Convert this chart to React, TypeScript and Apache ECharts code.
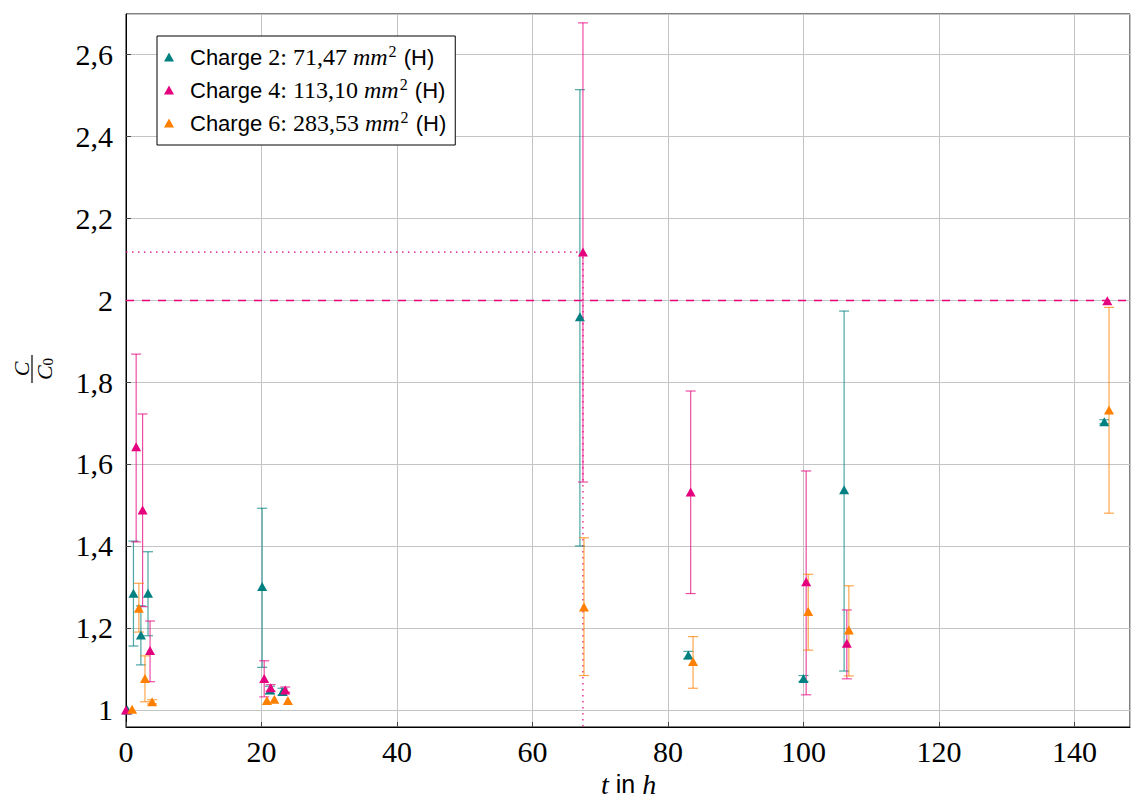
import React, { useEffect, useRef } from 'react';
import * as echarts from 'echarts';

// ---- data ----
const seriesNames = ['Charge 2', 'Charge 4', 'Charge 6'];
const seriesIds = ['2', '4', '6'];
const seriesAreas = ['71,47', '113,10', '283,53'];
const seriesColors = ['#008080', '#e5007d', '#ff8000'];

// Charge 2 (teal)
const charge2X = [0.2, 1.1, 2.2, 3.25, 20.1, 21.25, 23.1, 67.0, 83.0, 100.0, 106.0, 144.4];
const charge2Y = [1.0, 1.285, 1.183, 1.285, 1.301, 1.049, 1.045, 1.959, 1.134, 1.077, 1.537, 1.703];
const charge2Lo = [null, 1.156, 1.11, 1.181, 1.104, 1.04, 1.036, 1.4, 1.125, 1.07, 1.095, 1.698];
const charge2Hi = [null, 1.412, 1.254, 1.386, 1.492, 1.058, 1.053, 2.513, 1.143, 1.084, 1.973, 1.708];

// Charge 4 (magenta)
const charge4X = [0.0, 1.5, 2.45, 3.55, 20.4, 21.35, 23.5, 67.45, 83.35, 100.4, 106.4, 144.85];
const charge4Y = [1.0, 1.642, 1.488, 1.145, 1.077, 1.054, 1.049, 2.117, 1.532, 1.313, 1.163, 1.998];
const charge4Lo = [null, 1.41, 1.252, 1.069, 1.032, 1.046, 1.043, 1.556, 1.284, 1.037, 1.076, null];
const charge4Hi = [null, 1.868, 1.722, 1.217, 1.12, 1.062, 1.056, 2.676, 1.778, 1.583, 1.244, null];

// Charge 6 (orange)
const charge6X = [0.9, 1.9, 2.8, 3.85, 20.8, 21.9, 23.9, 67.6, 83.7, 100.7, 106.7, 145.1];
const charge6Y = [1.002, 1.248, 1.077, 1.02, 1.023, 1.026, 1.023, 1.251, 1.118, 1.24, 1.195, 1.732];
const charge6Lo = [null, 1.19, 1.02, 1.015, null, null, null, 1.084, 1.053, 1.146, 1.083, 1.48];
const charge6Hi = [null, 1.309, 1.132, 1.025, null, null, null, 1.42, 1.179, 1.331, 1.303, 1.982];

const referenceLevel = 2;
const highlightIndex = 7; // Charge 4 peak marked with dotted guides

const xMin = 0;
const xMax = 148.2;
const yMin = 0.9585;
const yMax = 2.6976;
const xStep = 20;
const yStep = 0.2;

const allX = [charge2X, charge4X, charge6X];
const allY = [charge2Y, charge4Y, charge6Y];
const allLo = [charge2Lo, charge4Lo, charge6Lo];
const allHi = [charge2Hi, charge4Hi, charge6Hi];

const serif = "'Liberation Serif', 'DejaVu Serif', serif";
const sans = "'Liberation Sans', Arial, sans-serif";

function errorSeries(idx: number) {
  const color = seriesColors[idx];
  const xs = allX[idx];
  const los = allLo[idx];
  const his = allHi[idx];
  const data: number[][] = [];
  xs.forEach((x, i) => {
    if (los[i] != null && his[i] != null) data.push([x, los[i] as number, his[i] as number]);
  });
  return {
    type: 'custom',
    id: 'err' + idx,
    silent: true,
    z: 2,
    encode: { x: 0, y: [1, 2] },
    data,
    renderItem: (_params: any, api: any) => {
      const x = api.value(0);
      const a = api.coord([x, api.value(1)]);
      const b = api.coord([x, api.value(2)]);
      const hw = 5;
      const style = { stroke: color, lineWidth: 1.2, opacity: 0.7 };
      return {
        type: 'group',
        children: [
          { type: 'line', shape: { x1: a[0], y1: a[1], x2: b[0], y2: b[1] }, style },
          { type: 'line', shape: { x1: a[0] - hw, y1: a[1], x2: a[0] + hw, y2: a[1] }, style },
          { type: 'line', shape: { x1: b[0] - hw, y1: b[1], x2: b[0] + hw, y2: b[1] }, style },
        ],
      };
    },
  };
}

function pointSeries(idx: number) {
  return {
    type: 'scatter',
    name: seriesNames[idx],
    symbol: 'triangle',
    symbolSize: [10, 9],
    z: 4,
    itemStyle: { color: seriesColors[idx], opacity: 1 },
    data: allX[idx].map((x, i) => [x, allY[idx][i]]),
  };
}

export default function App() {
  const ref = useRef<HTMLDivElement>(null);

  useEffect(() => {
    if (!ref.current) return;
    const chart = echarts.init(ref.current, undefined, { renderer: 'svg' });
    const hx = charge4X[highlightIndex];
    const hy = charge4Y[highlightIndex];

    const fmtY = (v: number) => {
      const k = Math.round(v / yStep);
      if (Math.abs(v - k * yStep) > 1e-6) return '';
      return String(Number((k * yStep).toFixed(1))).replace('.', ',');
    };
    const fmtX = (v: number) => {
      const k = Math.round(v / xStep);
      if (Math.abs(v - k * xStep) > 1e-6) return '';
      return String(k * xStep);
    };

    const option: any = {
      animation: false,
      backgroundColor: '#ffffff',
      grid: {
        left: 126,
        right: 1,
        top: 14,
        bottom: 72,
        show: true,
        borderColor: '#000',
        borderWidth: 1,
        backgroundColor: 'transparent',
      },
      xAxis: {
        type: 'value',
        min: xMin,
        max: xMax,
        minInterval: xStep,
        maxInterval: xStep,
        axisLine: { show: true, onZero: false, lineStyle: { color: '#000', width: 1 } },
        axisTick: { show: true, inside: true, length: 5, lineStyle: { color: '#444' } },
        axisLabel: {
          formatter: fmtX,
          showMaxLabel: false,
          color: '#000',
          fontFamily: serif,
          fontSize: 30,
          margin: 9,
        },
        splitLine: { show: true, lineStyle: { color: '#c4c4c4', width: 1 } },
      },
      yAxis: {
        type: 'value',
        min: yMin,
        max: yMax,
        minInterval: yStep,
        maxInterval: yStep,
        axisLine: { show: true, onZero: false, lineStyle: { color: '#000', width: 1 } },
        axisTick: { show: true, inside: true, length: 5, lineStyle: { color: '#444' } },
        axisLabel: {
          formatter: fmtY,
          showMinLabel: false,
          showMaxLabel: false,
          color: '#000',
          fontFamily: serif,
          fontSize: 30,
          margin: 13,
        },
        splitLine: { show: true, lineStyle: { color: '#c4c4c4', width: 1 } },
      },
      legend: {
        orient: 'vertical',
        left: 157,
        top: 36,
        data: seriesNames.map((n) => ({ name: n, icon: 'triangle' })),
        itemWidth: 10,
        itemHeight: 9,
        itemGap: 5,
        padding: [7, 9, 8, 7],
        borderColor: '#000',
        borderWidth: 1,
        backgroundColor: '#fff',
        selectedMode: false,
        formatter: (name: string) => {
          const i = seriesNames.indexOf(name);
          return `{s|Charge }{n|${seriesIds[i]}: ${seriesAreas[i]} }{i|mm}{p|2}{s| (H)}`;
        },
        textStyle: {
          color: '#000',
          padding: [0, 0, 0, 11],
          rich: {
            s: { fontFamily: sans, fontSize: 22, lineHeight: 25, color: '#000' },
            n: { fontFamily: serif, fontSize: 24, lineHeight: 25, color: '#000' },
            i: { fontFamily: serif, fontSize: 24, fontStyle: 'italic', lineHeight: 25, color: '#000' },
            p: { fontFamily: serif, fontSize: 16, lineHeight: 25, color: '#000', padding: [0, 1, 12, 1] },
          },
        },
      },
      graphic: [
        {
          type: 'text',
          left: 601,
          top: 770,
          style: {
            text: '{i|t}{s| in }{i|h}',
            rich: {
              i: { fontFamily: serif, fontStyle: 'italic', fontSize: 28, lineHeight: 28, fill: '#000' },
              s: { fontFamily: sans, fontSize: 25, lineHeight: 28, fill: '#000' },
            },
          },
        },
        {
          type: 'group',
          x: 32,
          y: 369,
          rotation: Math.PI / 2,
          children: [
            {
              type: 'text',
              x: 0,
              y: -11,
              style: {
                text: 'C',
                fontFamily: serif,
                fontStyle: 'italic',
                fontSize: 22,
                fill: '#000',
                align: 'center',
                verticalAlign: 'middle',
              },
            },
            {
              type: 'line',
              shape: { x1: -14, y1: 0, x2: 14, y2: 0 },
              style: { stroke: '#000', lineWidth: 1.2 },
            },
            {
              type: 'text',
              x: 0,
              y: 12,
              style: {
                text: '{c|C}{s|0}',
                align: 'center',
                verticalAlign: 'middle',
                rich: {
                  c: { fontFamily: serif, fontStyle: 'italic', fontSize: 22, fill: '#000' },
                  s: { fontFamily: serif, fontSize: 15, fill: '#000', padding: [8, 0, 0, 0] },
                },
              },
            },
          ],
        },
      ],
      series: [
        {
          type: 'line',
          id: 'guides',
          silent: true,
          symbol: 'none',
          z: 1,
          lineStyle: { color: seriesColors[1], width: 1.2, type: [1.5, 4.5] },
          data: [
            [xMin, hy],
            [hx, hy],
            [hx, yMin],
          ],
          markLine: {
            silent: true,
            symbol: 'none',
            label: { show: false },
            lineStyle: { color: seriesColors[1], width: 1.3, type: [8, 8] },
            data: [{ yAxis: referenceLevel }],
          },
        },
        errorSeries(0),
        errorSeries(1),
        errorSeries(2),
        pointSeries(0),
        pointSeries(1),
        pointSeries(2),
      ],
    };
    chart.setOption(option);
    return () => chart.dispose();
  }, []);

  return (
    <div
      ref={ref}
      style={{ position: 'fixed', left: 0, top: 0, width: 1131, height: 799, background: '#fff' }}
    />
  );
}
